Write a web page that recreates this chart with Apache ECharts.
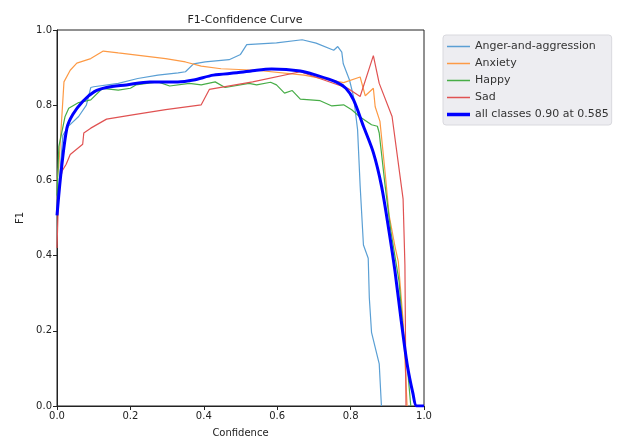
<!DOCTYPE html>
<html>
<head>
<meta charset="utf-8">
<script src="https://cdn.jsdelivr.net/npm/echarts@6/dist/echarts.min.js"></script>
<style>html,body{margin:0;padding:0;background:#fff}#c{width:618px;height:443px}</style>
</head>
<body>
<div id="c"></div>
<script>
const seriesNames = ['Anger-and-aggression', 'Anxiety', 'Happy', 'Sad', 'all classes 0.90 at 0.585'];
const xTicks = [0, 0.2, 0.4, 0.6, 0.8, 1.0];
const yTicks = [0, 0.2, 0.4, 0.6, 0.8, 1.0];

const angerData = [[0,0.52],[0.016,0.72],[0.032,0.745],[0.059,0.77],[0.08,0.80],[0.092,0.847],[0.10,0.849],[0.167,0.858],[0.22,0.871],[0.275,0.88],[0.33,0.886],[0.35,0.889],[0.372,0.91],[0.404,0.915],[0.469,0.921],[0.50,0.935],[0.517,0.961],[0.598,0.966],[0.668,0.974],[0.706,0.965],[0.754,0.946],[0.765,0.956],[0.776,0.941],[0.78,0.91],[0.797,0.867],[0.808,0.823],[0.819,0.735],[0.826,0.586],[0.835,0.428],[0.848,0.393],[0.851,0.288],[0.857,0.196],[0.878,0.112],[0.884,0]];
const anxietyData = [[0,0.60],[0.005,0.64],[0.019,0.862],[0.036,0.893],[0.054,0.912],[0.092,0.924],[0.126,0.944],[0.167,0.939],[0.296,0.924],[0.35,0.915],[0.393,0.904],[0.447,0.897],[0.544,0.893],[0.673,0.88],[0.781,0.86],[0.826,0.875],[0.84,0.825],[0.862,0.845],[0.867,0.796],[0.88,0.757],[0.894,0.621],[0.905,0.507],[0.921,0.424],[0.93,0.384],[0.943,0.226],[0.954,0]];
const happyData = [[0,0.56],[0.005,0.69],[0.022,0.77],[0.032,0.792],[0.059,0.807],[0.092,0.814],[0.124,0.845],[0.167,0.84],[0.2,0.845],[0.215,0.854],[0.275,0.862],[0.307,0.851],[0.361,0.858],[0.393,0.854],[0.431,0.862],[0.458,0.847],[0.523,0.858],[0.544,0.854],[0.582,0.861],[0.598,0.854],[0.62,0.832],[0.641,0.839],[0.663,0.816],[0.717,0.812],[0.749,0.798],[0.781,0.801],[0.803,0.788],[0.824,0.77],[0.857,0.748],[0.873,0.744],[0.878,0.726],[0.894,0.586],[0.91,0.463],[0.932,0.332],[0.943,0.2],[0.954,0.112],[0.964,0]];
const sadData = [[0,0.42],[0.005,0.586],[0.014,0.625],[0.025,0.643],[0.036,0.669],[0.07,0.696],[0.073,0.726],[0.092,0.739],[0.135,0.763],[0.21,0.775],[0.296,0.788],[0.393,0.801],[0.415,0.842],[0.533,0.862],[0.663,0.889],[0.792,0.845],[0.826,0.823],[0.862,0.932],[0.878,0.858],[0.913,0.77],[0.943,0.551],[0.948,0.375],[0.951,0]];
const allData = [[0,0.507],[0.011,0.621],[0.027,0.739],[0.043,0.775],[0.07,0.81],[0.102,0.836],[0.135,0.847],[0.189,0.854],[0.253,0.862],[0.329,0.862],[0.372,0.867],[0.426,0.88],[0.49,0.886],[0.544,0.893],[0.585,0.896],[0.663,0.891],[0.706,0.88],[0.76,0.862],[0.787,0.845],[0.808,0.814],[0.835,0.744],[0.862,0.674],[0.884,0.586],[0.905,0.463],[0.921,0.358],[0.938,0.226],[0.954,0.112],[0.97,0.033],[0.98,0],[1.0,0]];

const dataSets = [angerData, anxietyData, happyData, sadData, allData];
const colors = ['#5a9fd4', '#fd9a45', '#47ad47', '#e05252', '#0000ff'];
const widths = [1.2, 1.2, 1.2, 1.2, 3];

const font = 'DejaVu Sans';
const chart = echarts.init(document.getElementById('c'));
chart.setOption({
  animation: false,
  backgroundColor: '#fff',
  title: {
    text: 'F1-Confidence Curve',
    left: 240, top: 10, textAlign: 'center',
    textStyle: {fontFamily: font, fontSize: 11, fontWeight: 'normal', color: '#222'}
  },
  legend: {
    orient: 'vertical',
    left: 443, top: 35,
    data: seriesNames.map((n, i) => ({
      name: n,
      icon: i === 4 ? 'path://M0,0H23V3.5H0Z' : 'path://M0,0H23V1.5H0Z'
    })),
    symbolKeepAspect: true,
    itemWidth: 23, itemHeight: 12, itemGap: 6,
    padding: [6, 3, 5, 4],
    backgroundColor: '#ededf1',
    borderColor: '#d9d9de', borderWidth: 1, borderRadius: 3,
    textStyle: {fontFamily: font, fontSize: 11, color: '#333'}
  },
  grid: {
    left: 57, right: 194, top: 30, bottom: 34,
    show: true, borderColor: '#222', borderWidth: 1, backgroundColor: '#fff'
  },
  xAxis: {
    type: 'value', min: 0, max: 1, interval: 0.2,
    name: 'Confidence', nameLocation: 'middle', nameGap: 22,
    nameTextStyle: {fontFamily: font, fontSize: 10, color: '#222'},
    axisLine: {show: true, onZero: false, lineStyle: {color: '#222'}},
    axisTick: {show: true, inside: false, length: 4, lineStyle: {color: '#222'}},
    axisLabel: {fontFamily: font, fontSize: 10, color: '#222', margin: 5,
      formatter: v => xTicks.find(t => Math.abs(t - v) < 1e-9) !== undefined ? v.toFixed(1) : ''},
    splitLine: {show: false}
  },
  yAxis: {
    type: 'value', min: 0, max: 1, interval: 0.2,
    name: 'F1', nameLocation: 'middle', nameGap: 27,
    nameTextStyle: {fontFamily: font, fontSize: 10, color: '#222'},
    axisLine: {show: true, onZero: false, lineStyle: {color: '#222'}},
    axisTick: {show: true, inside: false, length: 4, lineStyle: {color: '#222'}},
    axisLabel: {fontFamily: font, fontSize: 10, color: '#222', margin: 5,
      formatter: v => yTicks.find(t => Math.abs(t - v) < 1e-9) !== undefined ? v.toFixed(1) : ''},
    splitLine: {show: false}
  },
  series: seriesNames.map((n, i) => ({
    name: n, type: 'line', data: dataSets[i],
    symbol: 'none', showSymbol: false, smooth: i === 4 ? 0.3 : false,
    color: colors[i],
    lineStyle: {width: widths[i], color: colors[i]},
    z: i === 4 ? 5 : 2
  }))
});
</script>
</body>
</html>
